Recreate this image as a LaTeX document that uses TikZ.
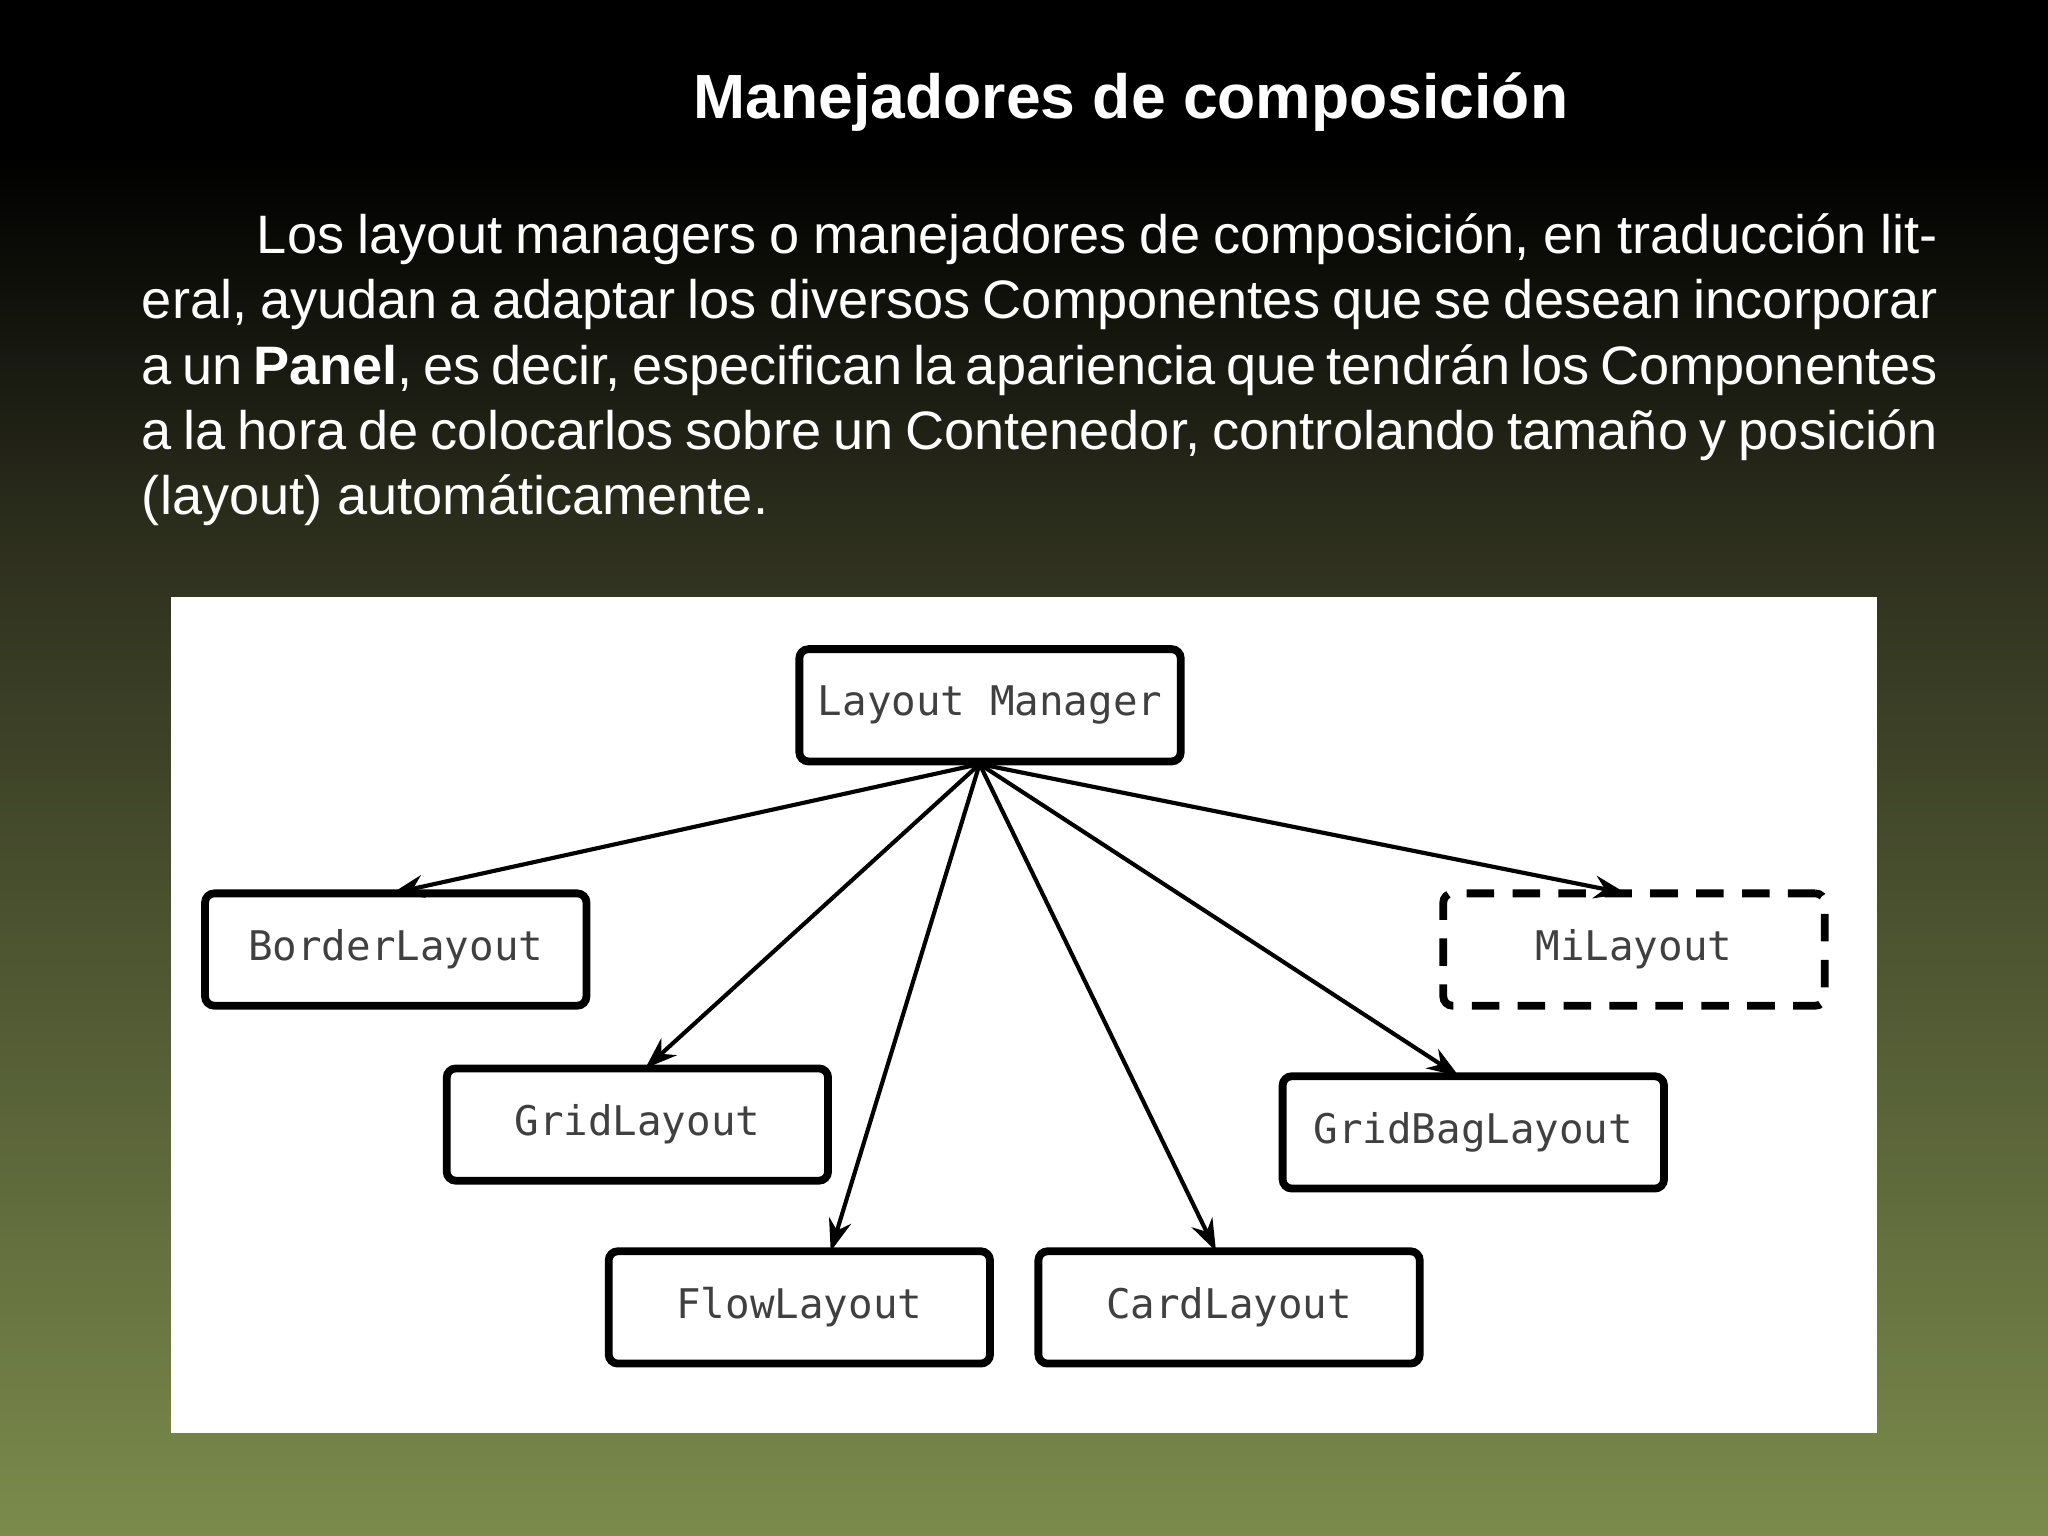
\documentclass[tikz,border=0pt]{standalone}
\usepackage{fontspec}
\setmainfont{Liberation Sans}
\setmonofont{DejaVu Sans Mono}
\usetikzlibrary{arrows.meta}
\begin{document}
\begin{tikzpicture}[
  cls/.style={draw=black, line width=1.7pt, rounded corners=2pt, minimum width=2.92cm, minimum height=0.86cm, font=\ttfamily\fontsize{8.9}{11}\selectfont, text=black!75, inner sep=0pt},
  arr/.style={-{Stealth[length=7pt,width=5pt]}, line width=0.9pt, black}
]
\useasboundingbox (0,0) rectangle (15.68,-11.76);
\fill[black] (0,0) rectangle (15.68,-1.5);
\shade[top color=black, bottom color={rgb,255:red,46;green,48;blue,30}] (0,-1.2) rectangle (15.68,-4.2);
\shade[top color={rgb,255:red,46;green,48;blue,30}, bottom color={rgb,255:red,123;green,139;blue,76}] (0,-4.19) rectangle (15.68,-11.76);
\node[text=white, font=\bfseries\fontsize{13.6}{16}\selectfont] (title) at (8.66,-0.78) {Manejadores de composición};
\node[text=white, anchor=north west, inner sep=0pt, text width=13.75cm, align=justify, font=\fontsize{11.8}{14.2}\selectfont] (para) at (1.08,-1.63)
{\hyphenpenalty=10000\exhyphenpenalty=10000\hspace*{0.88cm}Los layout managers o manejadores de composición, en traducción literal, ayudan a adaptar los diversos Componentes que se desean incorporar a un \textbf{Panel}, es decir, especifican la apariencia que tendrán los Componentes a la hora de colocarlos sobre un Contenedor, controlando tamaño y posición (layout) automáticamente.};
\fill[white] (1.31,-4.57) rectangle (14.37,-10.97);
\node[cls] (lm) at (7.58,-5.40) {Layout Manager};
\node[cls] (bl) at (3.03,-7.27) {BorderLayout};
\node[cls, dashed, dash pattern=on 6pt off 4pt] (ml) at (12.51,-7.27) {MiLayout};
\node[cls] (gl) at (4.88,-8.61) {GridLayout};
\node[cls] (gbl) at (11.28,-8.67) {GridBagLayout};
\node[cls] (fl) at (6.12,-10.01) {FlowLayout};
\node[cls] (cl) at (9.41,-10.01) {CardLayout};
\coordinate (src) at (7.50,-5.85);
\coordinate (tb) at (3.00,-6.84);
\coordinate (tg) at (4.94,-8.18);
\coordinate (tf) at (6.36,-9.58);
\coordinate (tc) at (9.31,-9.58);
\coordinate (tgb) at (11.17,-8.24);
\coordinate (tm) at (12.45,-6.84);
\draw[arr] (src) -- (tb);
\draw[arr] (src) -- (tg);
\draw[arr] (src) -- (tf);
\draw[arr] (src) -- (tc);
\draw[arr] (src) -- (tgb);
\draw[arr] (src) -- (tm);
\end{tikzpicture}
\end{document}
